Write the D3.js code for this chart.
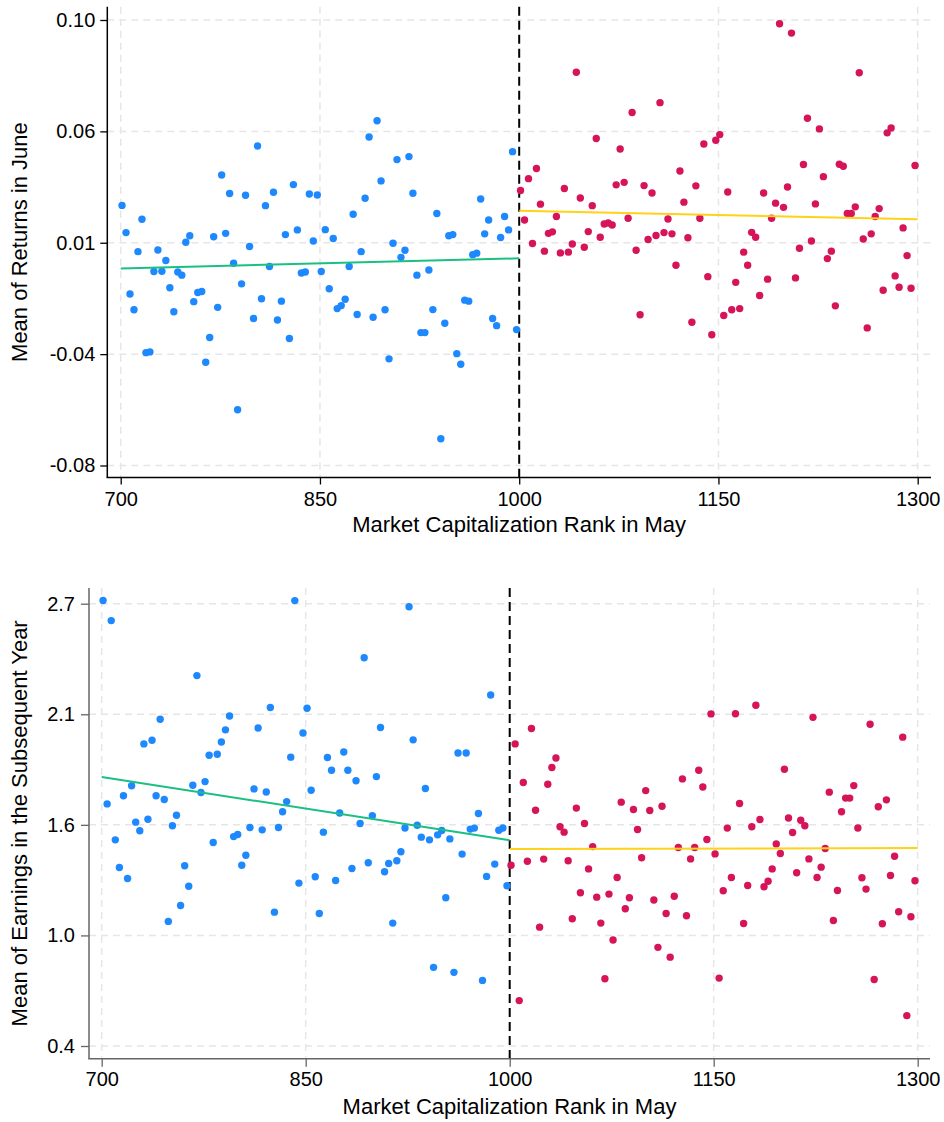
<!DOCTYPE html>
<html>
<head>
<meta charset="utf-8">
<script src="https://cdn.jsdelivr.net/npm/d3@7"></script>
<style>
  html, body { margin: 0; padding: 0; background: #fff; }
  svg { display: block; }
  text { font-family: "Liberation Sans", Arial, Helvetica, sans-serif; fill: #000; }
</style>
</head>
<body>
<svg id="chart" width="944" height="1122"></svg>
<script>
// ---------------- DATA ----------------
const ranksBelow = [
  701,704,707,710,713,716,719,722,725,728,
  731,734,737,740,743,746,749,752,755,758,
  761,764,767,770,773,776,779,782,785,788,
  791,794,797,800,803,806,809,812,815,818,
  821,824,827,830,833,836,839,842,845,848,
  851,854,857,860,863,866,869,872,875,878,
  881,884,887,890,893,896,899,902,905,908,
  911,914,917,920,923,926,929,932,935,938,
  941,944,947,950,953,956,959,962,965,968,
  971,974,977,980,983,986,989,992,995,998
];
const ranksAbove = [
  1001,1004,1007,1010,1013,1016,1019,1022,1025,1028,
  1031,1034,1037,1040,1043,1046,1049,1052,1055,1058,
  1061,1064,1067,1070,1073,1076,1079,1082,1085,1088,
  1091,1094,1097,1100,1103,1106,1109,1112,1115,1118,
  1121,1124,1127,1130,1133,1136,1139,1142,1145,1148,
  1151,1154,1157,1160,1163,1166,1169,1172,1175,1178,
  1181,1184,1187,1190,1193,1196,1199,1202,1205,1208,
  1211,1214,1217,1220,1223,1226,1229,1232,1235,1238,
  1241,1244,1247,1250,1253,1256,1259,1262,1265,1268,
  1271,1274,1277,1280,1283,1286,1289,1292,1295,1298
];

const returnsBelow = [
  0.0251, 0.0141, -0.0107, -0.0171, 0.0064, 0.0195, -0.0344, -0.0341, -0.0016, 0.0071,
  -0.0015, 0.0028, -0.0082, -0.0179, -0.0018, -0.0031, 0.0102, 0.0128, -0.0138, -0.0101,
  -0.0097, -0.0383, -0.0283, 0.0124, -0.0161, 0.0374, 0.0138, 0.0299, 0.0017, -0.0575,
  -0.0066, 0.0292, 0.0085, -0.0206, 0.0491, -0.0126, 0.0250, 0.0004, 0.0304, -0.0212,
  -0.0136, 0.0133, -0.0287, 0.0335, 0.0152, -0.0022, -0.0018, 0.0297, 0.0107, 0.0293,
  -0.0016, 0.0153, -0.0086, 0.0117, -0.0166, -0.0154, -0.0128, 0.0004, 0.0215, -0.0190,
  0.0064, 0.0280, 0.0527, -0.0201, 0.0593, 0.0350, -0.0171, -0.0369, 0.0098, 0.0436,
  0.0041, 0.0070, 0.0448, 0.0300, -0.0031, -0.0263, -0.0263, -0.0010, -0.0170, 0.0218,
  -0.0692, -0.0225, 0.0128, 0.0133, -0.0348, -0.0391, -0.0132, -0.0136, 0.0052, 0.0058,
  0.0277, 0.0136, 0.0192, -0.0206, -0.0235, 0.0121, 0.0206, 0.0152, 0.0468, -0.0251
];
const returnsAbove = [
  0.0311, 0.0192, 0.0359, 0.0097, 0.0400, 0.0256, 0.0066, 0.0138, 0.0144, 0.0206,
  0.0059, 0.0319, 0.0062, 0.0095, 0.0789, 0.0281, 0.0082, 0.0145, 0.0250, 0.0521,
  0.0122, 0.0176, 0.0180, 0.0172, 0.0334, 0.0479, 0.0344, 0.0199, 0.0626, 0.0070,
  -0.0191, 0.0331, 0.0113, 0.0301, 0.0129, 0.0666, 0.0141, 0.0196, 0.0136, 0.0009,
  0.0390, 0.0264, 0.0120, -0.0221, 0.0330, 0.0199, 0.0499, -0.0037, -0.0272, 0.0514,
  0.0537, -0.0194, 0.0305, -0.0171, -0.0060, -0.0166, 0.0062, 0.0009, 0.0142, 0.0122,
  -0.0113, 0.0301, -0.0047, 0.0199, 0.0260, 0.0985, 0.0243, 0.0325, 0.0947, -0.0042,
  0.0078, 0.0416, 0.0603, 0.0107, 0.0257, 0.0560, 0.0367, 0.0036, 0.0066, -0.0155,
  0.0417, 0.0409, 0.0218, 0.0218, 0.0245, 0.0787, 0.0115, -0.0244, 0.0136, 0.0206,
  0.0238, -0.0092, 0.0544, 0.0564, -0.0034, -0.0080, 0.0160, 0.0048, -0.0084, 0.0412
];

const earningsBelow = [
  2.717, 1.659, 2.612, 1.472, 1.328, 1.701, 1.271, 1.753, 1.564, 1.519,
  1.971, 1.579, 1.990, 1.701, 2.099, 1.682, 1.048, 1.545, 1.600, 1.131,
  1.337, 1.231, 1.756, 2.326, 1.718, 1.775, 1.912, 1.458, 1.917, 1.981,
  2.044, 2.116, 1.489, 1.500, 1.340, 1.392, 1.536, 1.737, 2.054, 1.524,
  1.721, 2.160, 1.096, 1.536, 1.618, 1.671, 1.902, 2.716, 1.247, 2.028,
  2.156, 1.730, 1.280, 1.089, 1.512, 1.900, 1.834, 1.261, 1.612, 1.929,
  1.834, 1.323, 1.779, 1.557, 2.419, 1.353, 1.597, 1.801, 2.056, 1.306,
  1.349, 1.039, 1.363, 1.410, 1.534, 2.684, 1.992, 1.548, 1.486, 1.739,
  1.472, 0.809, 1.498, 1.521, 1.171, 1.477, 0.783, 1.924, 1.398, 1.924,
  1.528, 1.533, 1.609, 0.741, 1.282, 2.225, 1.346, 1.522, 1.534, 1.233
];
const earningsAbove = [
  1.340, 1.971, 0.636, 1.770, 1.361, 2.051, 1.626, 1.018, 1.372, 1.761,
  1.848, 1.898, 1.540, 1.512, 1.363, 1.062, 1.637, 1.197, 1.557, 1.321,
  1.437, 1.174, 1.039, 0.750, 1.190, 0.951, 1.276, 1.668, 1.114, 1.171,
  1.630, 1.526, 1.379, 1.728, 1.625, 1.159, 0.913, 1.647, 1.089, 0.862,
  1.179, 1.432, 1.789, 1.077, 1.373, 1.432, 1.834, 1.747, 1.474, 2.127,
  1.399, 0.753, 1.207, 1.533, 1.276, 2.128, 1.661, 1.037, 1.235, 1.540,
  2.172, 1.578, 1.228, 1.257, 1.321, 1.451, 1.401, 1.839, 1.586, 1.510,
  1.301, 1.574, 1.545, 1.373, 2.109, 1.276, 1.330, 1.427, 1.720, 1.053,
  1.209, 1.618, 1.689, 1.689, 1.754, 1.534, 1.275, 1.216, 2.073, 0.746,
  1.644, 1.036, 1.680, 1.287, 1.387, 1.098, 2.006, 0.558, 1.072, 1.259
];

// Linear-fit lines: [rank, value] end points
const returnsFitBelow = [[700, -0.0004], [1000, 0.0037]];
const returnsFitAbove = [[1000, 0.0229], [1300, 0.0195]];
const earningsFitBelow = [[700, 1.799], [1000, 1.470]];
const earningsFitAbove = [[1000, 1.424], [1300, 1.429]];

const cutoff = 1000;
const xTicks = [700, 850, 1000, 1150, 1300];
const xTickLabels = ["700", "850", "1000", "1150", "1300"];
const yTicksReturns = [-0.08, -0.035, 0.01, 0.055, 0.10];
const yTickLabelsReturns = ["-0.08", "-0.04", "0.01", "0.06", "0.10"];
const yTicksEarnings = [0.4, 0.975, 1.55, 2.125, 2.7];
const yTickLabelsEarnings = ["0.4", "1.0", "1.6", "2.1", "2.7"];

const xTitle = "Market Capitalization Rank in May";
const yTitleReturns = "Mean of Returns in June";
const yTitleEarnings = "Mean of Earnings in the Subsequent Year";

// ---------------- DRAWING ----------------
const COLORS = {
  below: "#1e88ff",
  above: "#d6145a",
  fitBelow: "#19c082",
  fitAbove: "#ffd21a",
  grid: "#e6e6e6"
};

const svg = d3.select("#chart");

function panel(cfg) {
  const g = svg.append("g");
  const x = d3.scaleLinear().domain([700, 1300]).range([cfg.x700, cfg.x1300]);
  const y = d3.scaleLinear().domain([cfg.yTicks[0], cfg.yTicks[cfg.yTicks.length - 1]])
              .range([cfg.yLow, cfg.yHigh]);

  // gridlines
  g.append("g").selectAll("line.h").data(cfg.yTicks).join("line")
    .attr("x1", cfg.left).attr("x2", cfg.right)
    .attr("y1", d => y(d)).attr("y2", d => y(d))
    .attr("stroke", COLORS.grid).attr("stroke-width", 1.5)
    .attr("stroke-dasharray", "7,5");
  g.append("g").selectAll("line.v").data(xTicks.filter(d => d !== cutoff)).join("line")
    .attr("x1", d => x(d)).attr("x2", d => x(d))
    .attr("y1", cfg.top).attr("y2", cfg.bottom)
    .attr("stroke", COLORS.grid).attr("stroke-width", 1.5)
    .attr("stroke-dasharray", "7,5");

  // cutoff line
  g.append("line")
    .attr("x1", x(cutoff)).attr("x2", x(cutoff))
    .attr("y1", cfg.top).attr("y2", cfg.bottom)
    .attr("stroke", "#000").attr("stroke-width", 2)
    .attr("stroke-dasharray", "9,5");

  // points
  const below = cfg.ranksBelow.map((r, i) => ({ r, v: cfg.valsBelow[i] }));
  const above = cfg.ranksAbove.map((r, i) => ({ r, v: cfg.valsAbove[i] }));
  g.append("g").selectAll("circle").data(below).join("circle")
    .attr("cx", d => x(d.r)).attr("cy", d => y(d.v)).attr("r", 3.7)
    .attr("fill", COLORS.below);
  g.append("g").selectAll("circle").data(above).join("circle")
    .attr("cx", d => x(d.r)).attr("cy", d => y(d.v)).attr("r", 3.7)
    .attr("fill", COLORS.above);

  // fit lines
  const line = d3.line().x(d => x(d[0])).y(d => y(d[1]));
  g.append("path").attr("d", line(cfg.fitBelow)).attr("fill", "none")
    .attr("stroke", COLORS.fitBelow).attr("stroke-width", 2);
  g.append("path").attr("d", line(cfg.fitAbove)).attr("fill", "none")
    .attr("stroke", COLORS.fitAbove).attr("stroke-width", 2);

  // axes
  const yAxis = d3.axisLeft(y).tickValues(cfg.yTicks)
    .tickFormat((d, i) => cfg.yLabels[i]).tickSize(cfg.tickLen).tickPadding(cfg.yPad);
  const ya = g.append("g").attr("transform", `translate(${cfg.left},0)`).call(yAxis);
  ya.select(".domain").remove();
  ya.selectAll(".tick line").attr("stroke", cfg.axisColor).attr("stroke-width", 1.3);
  ya.selectAll(".tick text").style("font-size", "20px").style("fill", "#000")
    .style("font-family", '"Liberation Sans", Arial, sans-serif');

  const xAxis = d3.axisBottom(x).tickValues(xTicks)
    .tickFormat((d, i) => xTickLabels[i]).tickSize(cfg.tickLen).tickPadding(cfg.xPad);
  const xa = g.append("g").attr("transform", `translate(0,${cfg.bottom})`).call(xAxis);
  xa.select(".domain").remove();
  xa.selectAll(".tick line").attr("stroke", cfg.axisColor).attr("stroke-width", 1.3);
  xa.selectAll(".tick text").style("font-size", "20px").style("fill", "#000")
    .style("font-family", '"Liberation Sans", Arial, sans-serif');

  // axis lines
  g.append("line").attr("x1", cfg.left).attr("x2", cfg.left)
    .attr("y1", cfg.top).attr("y2", cfg.bottom)
    .attr("stroke", cfg.axisColor).attr("stroke-width", 1.5);
  g.append("line").attr("x1", cfg.left - 0.75).attr("x2", cfg.right)
    .attr("y1", cfg.bottom).attr("y2", cfg.bottom)
    .attr("stroke", cfg.axisColor).attr("stroke-width", 1.5);

  // titles
  g.append("text")
    .attr("x", (cfg.left + cfg.right) / 2).attr("y", cfg.xTitleY)
    .attr("text-anchor", "middle").style("font-size", "22px")
    .text(xTitle);
  g.append("text")
    .attr("transform", `translate(${cfg.yTitleX},${(cfg.top + cfg.bottom) / 2}) rotate(-90)`)
    .attr("text-anchor", "middle").style("font-size", "22px")
    .text(cfg.yTitle);
}

panel({
  left: 107.3, right: 931, top: 6.7, bottom: 477.5,
  x700: 120.7, x1300: 917.7,
  yLow: 465.5, yHigh: 20,
  yTicks: yTicksReturns, yLabels: yTickLabelsReturns,
  ranksBelow, ranksAbove, valsBelow: returnsBelow, valsAbove: returnsAbove,
  fitBelow: returnsFitBelow, fitAbove: returnsFitAbove,
  tickLen: 7, yPad: 5, xPad: 7,
  axisColor: "#000",
  xTitleY: 532, yTitleX: 27, yTitle: yTitleReturns
});

panel({
  left: 89, right: 930, top: 588, bottom: 1058.7,
  x700: 101.7, x1300: 917.7,
  yLow: 1046, yHigh: 603.7,
  yTicks: yTicksEarnings, yLabels: yTickLabelsEarnings,
  ranksBelow, ranksAbove, valsBelow: earningsBelow, valsAbove: earningsAbove,
  fitBelow: earningsFitBelow, fitAbove: earningsFitAbove,
  tickLen: 8, yPad: 6, xPad: 5,
  axisColor: "#666",
  xTitleY: 1114, yTitleX: 27, yTitle: yTitleEarnings
});
</script>
</body>
</html>
